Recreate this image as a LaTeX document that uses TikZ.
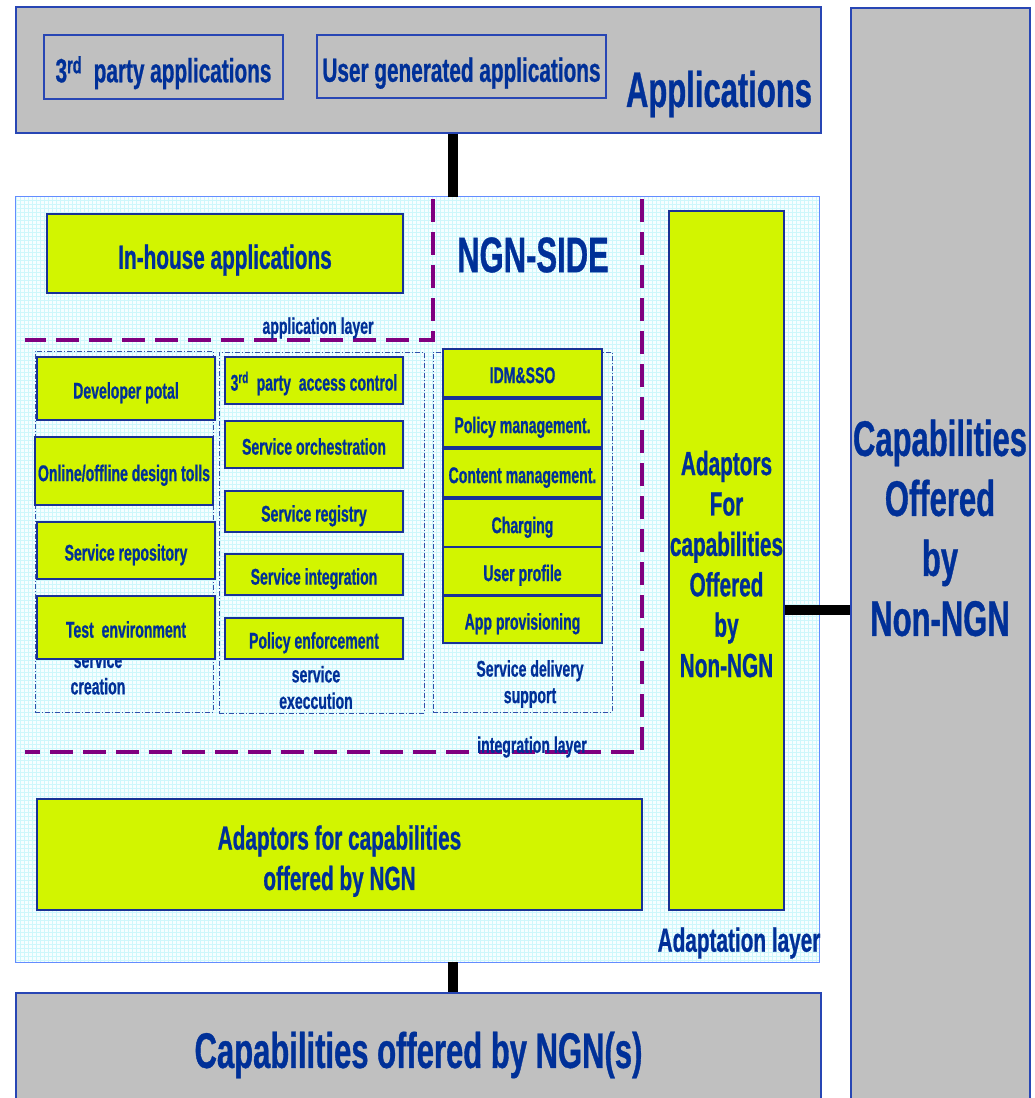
\documentclass[tikz,border=0pt]{standalone}
\usepackage{fontspec}
\setmainfont{Liberation Sans}[FakeStretch=0.62, FakeBold=0.7]
\definecolor{navy}{RGB}{0,48,152}
\definecolor{boxline}{RGB}{25,50,150}
\definecolor{limefill}{RGB}{210,245,0}
\definecolor{panelgray}{RGB}{192,192,192}
\definecolor{panelline}{RGB}{40,70,180}
\definecolor{sideline}{RGB}{100,140,255}
\definecolor{sidefill}{RGB}{246,254,255}
\definecolor{sidegrid}{RGB}{206,247,251}
\definecolor{layerline}{RGB}{128,0,128}
\definecolor{groupline}{RGB}{50,80,170}
\tikzset{
  big/.style={font=\bfseries\fontsize{50}{60}\selectfont, text=navy},
  mid/.style={font=\bfseries\fontsize{33.5}{40.4}\selectfont, text=navy},
  small/.style={font=\bfseries\fontsize{22.7}{26.5}\selectfont, text=navy},
  bigline/.style={big, text height=37.8pt, text depth=0pt},
  midline/.style={mid, text height=30.5pt, text depth=0pt},
  smallline/.style={small, text height=20.2pt, text depth=0pt},
  panel/.style={draw=panelline, line width=1.2pt, fill=panelgray, inner sep=0pt},
  appbox/.style={draw=panelline, line width=1.1pt, inner sep=0pt, midline},
  limebox/.style={draw=boxline, line width=1.4pt, fill=limefill, inner sep=0pt, align=center},
  groupbox/.style={draw=groupline, line width=0.7pt, dash pattern=on 5pt off 2pt on 1pt off 2pt, inner sep=0pt},
  layer/.style={draw=layerline, line width=3.2pt, dash pattern=on 23pt off 10pt},
  conn/.style={draw=black, line width=10.5pt},
}
\begin{document}
\begin{tikzpicture}[x=1pt, y=-1pt]
\clip (0,0) rectangle (1034,1098);
\fill[white] (0,0) rectangle (1034,1098);

% anchor lines for the connectors
\coordinate (cx) at (453,0);
\coordinate (cy) at (0,610);

% outer panels
\node[panel, minimum width=805, minimum height=126] (apps) at (418.5,70) {};
\node[panel, minimum width=179, minimum height=1102] (nonngn) at (940.5,559) {};
\node[panel, minimum width=805, minimum height=112, bigline] (ngncap) at (418.5,1049) {Capabilities offered by NGN(s)};

% NGN-SIDE area with its fine grid
\node[fill=sidefill, minimum width=803, minimum height=765, inner sep=0pt] (ngn) at (417.5,579.5) {};
\begin{scope}
  \clip (ngn.north west) rectangle (ngn.south east);
  \draw[sidegrid, line width=0.45pt] (ngn.north west) grid[step=4pt] (ngn.south east);
\end{scope}
\draw[sideline, line width=1.1pt] (ngn.north west) rectangle (ngn.south east);

% connectors between the layers
\draw[conn] (apps.south -| cx) -- (ngn.north -| cx);
\draw[conn] (ngn.south -| cx) -- (ngncap.north -| cx);

% application layer contents
\node[appbox, minimum width=239, minimum height=64] (thirdapps) at (163.5,67) {3\textsuperscript{rd}\ \ party applications};
\node[appbox, minimum width=289, minimum height=63] (userapps) at (461.5,66.5) {User generated applications};
\node[big] (appslbl) at (719,94) {Applications};
\node[big, align=center] (nonngnlbl) at (940,528) {Capabilities\\Offered\\by\\Non-NGN};

% layer boundaries
\draw[layer] (433,199) -- (433,340) -- (25,340);
\draw[layer] (642,199) -- (642,752) -- (25,752);
\node[small] (applayer) at (318,328) {application layer};
\node[small] (intlayer) at (532,747) {integration layer};
\node[big] (ngnside) at (533,255) {NGN-SIDE};

% in-house applications
\node[limebox, midline, minimum width=356, minimum height=79] (inhouse) at (225,253.5) {In-house applications};

% group frames and their captions
\node[groupbox, minimum width=178, minimum height=361] (creation) at (124,531.5) {};
\node[groupbox, minimum width=205, minimum height=361] (execution) at (321.5,532.5) {};
\node[groupbox, minimum width=179, minimum height=360] (delivery) at (522.5,532) {};
\node[small, align=center] (creationlbl) at (98,673) {service\\creation};
\node[small, align=center] (executionlbl) at (316,687.5) {service\\execcution};
\node[small, align=center] (deliverylbl) at (530,684) {Service delivery\\support};

% service creation
\node[limebox, smallline, minimum width=178, minimum height=63] (devportal) at (126,388.5) {Developer potal};
\node[limebox, smallline, minimum width=178, minimum height=68] (designtools) at (124,471) {Online/offline design tolls};
\node[limebox, smallline, minimum width=178, minimum height=57] (repo) at (126,550.5) {Service repository};
\node[limebox, smallline, minimum width=178, minimum height=63] (testenv) at (126,627.5) {Test\ \ environment};

% service execution
\node[limebox, smallline, minimum width=178, minimum height=47] (accessctl) at (314,380.5) {3\textsuperscript{rd}\ \ party\ \ access control};
\node[limebox, smallline, minimum width=178, minimum height=47] (orch) at (314,444.5) {Service orchestration};
\node[limebox, smallline, minimum width=178, minimum height=41] (registry) at (314,511.5) {Service registry};
\node[limebox, smallline, minimum width=178, minimum height=41] (integ) at (314,574.5) {Service integration};
\node[limebox, smallline, minimum width=178, minimum height=41] (polenf) at (314,638.5) {Policy enforcement};

% service delivery support
\node[limebox, smallline, minimum width=159, minimum height=48] (idm) at (522.5,373) {IDM\&SSO};
\node[limebox, smallline, minimum width=159, minimum height=48] (polmgmt) at (522.5,423) {Policy management.};
\node[limebox, smallline, minimum width=159, minimum height=48] (content) at (522.5,473) {Content management.};
\node[limebox, smallline, minimum width=159, minimum height=48] (charging) at (522.5,523) {Charging};
\node[limebox, smallline, minimum width=159, minimum height=48] (userprof) at (522.5,571) {User profile};
\node[limebox, smallline, minimum width=159, minimum height=47] (appprov) at (522.5,619.5) {App provisioning};

% adaptation layer
\node[limebox, mid, minimum width=115, minimum height=699] (adaptR) at (726.5,560.5) {\rule{0pt}{31.5pt}Adaptors\\For\\capabilities\\Offered\\by\\Non-NGN};
\node[limebox, mid, minimum width=605, minimum height=111] (adaptNGN) at (339.5,854.5) {\rule{0pt}{37.5pt}Adaptors for capabilities\\offered by NGN};
\node[mid] (adaptlbl) at (739,943) {Adaptation layer};
\draw[conn] (adaptR.east |- cy) -- (nonngn.west |- cy);
\end{tikzpicture}
\end{document}
